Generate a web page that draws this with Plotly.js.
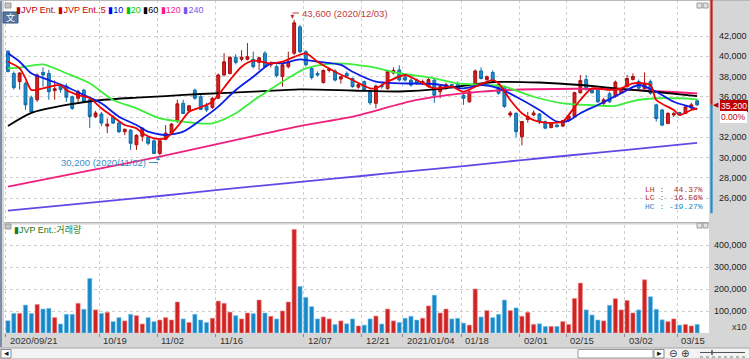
<!DOCTYPE html>
<html><head><meta charset="utf-8">
<script src="https://cdn.plot.ly/plotly-3.0.1.min.js"></script>
<style>html,body{margin:0;padding:0;background:#d6d6d6;}#chart{width:750px;height:359px;}</style>
</head><body><div id="chart"></div>
<script>
// ---------------- DATA ----------------
const tickLabels = ["2020/09/21","10/19","11/02","11/16","12/07","12/21","2021/01/04","01/18","02/01","02/15","03/02","03/15"];
const tickDayIndex = [0,16,26,36,51,61,68,78,88,96,106,115];

const openPrice = [40500,38300,37500,37300,35900,35700,38400,38300,36600,37100,
37050,36000,35850,36650,35700,34050,34300,33100,34000,33400,
32550,32700,31250,32100,32000,31650,30400,31800,32400,33550,
35350,34600,36650,36000,35100,34950,35850,38150,38300,39900,
39700,39700,39700,39400,40300,39150,38970,38000,38970,40300,
42900,40450,38800,38300,37400,38600,38550,37750,38300,37800,
36950,37500,36550,35350,37100,36800,38350,38650,37950,37650,
37650,37300,37000,37650,36500,36900,37200,37300,36150,35500,
37100,38550,37700,38400,37200,37000,34200,34350,32050,33750,
34200,34300,33550,32950,33200,33100,33650,34050,36400,37700,
36650,36650,35350,36300,36050,36400,37000,37700,37500,36800,
37500,35200,34700,33350,34200,34450,34350,34900,35600];
const highPrice = [40600,38500,38400,37500,36100,38300,38900,38650,37600,37300,
37300,36100,36700,36800,35800,34600,34500,33850,34200,33500,
32800,32800,32300,32950,32100,31800,31700,33200,33400,35700,
35700,35200,36800,36200,35400,36000,38300,40300,40000,40200,
40600,41300,40450,39950,40500,39500,39200,39500,40450,43600,
43100,40600,39000,38500,38700,38900,38700,38000,38500,37900,
37300,37600,36700,37200,37300,38600,38900,39100,38100,37800,
37800,37700,37900,37800,37100,37400,37300,37500,36300,36600,
38700,38900,38100,38600,37300,37100,34600,34500,33600,34500,
34650,34400,33650,33500,33300,33700,34200,36500,38150,38150,
36800,36800,35900,36500,37600,36900,38150,38300,37700,38400,
37700,35300,34800,34500,34500,34500,35100,35400,35700];
const lowPrice = [38400,36700,36700,34700,34400,35500,37000,35700,35700,36400,
35500,34700,35500,35400,32900,33900,33100,32400,33300,32400,
32200,30750,30750,31600,31200,30350,30200,31700,32300,33400,
34300,34400,35700,34700,34500,34800,35800,38000,38200,39200,
39500,39600,38800,38650,38900,38900,37900,37000,38800,40100,
40300,39000,37700,38000,37300,38400,37500,37300,37900,36900,
36800,36500,35200,34850,36800,36700,38200,37500,37500,37000,
37200,37200,36900,35400,35850,36700,36800,36700,35200,35400,
37000,37700,37500,37400,36200,34900,34000,32000,31200,33450,
34100,33300,32800,32900,32950,33000,33500,34000,36300,36600,
36300,35400,35100,35400,35900,36300,36900,37600,36700,36700,
36200,33550,33100,33300,34000,34100,34300,34800,35100];
const closePrice = [38500,36900,38350,35200,34500,38150,38150,36500,36800,36700,
35950,34850,36500,35500,34050,34400,33400,33300,33400,32550,
32800,31400,32200,32900,31400,30400,31650,32400,33300,35300,
34350,35100,35850,34750,34700,35850,38150,39450,39900,39400,
39900,39950,38970,39850,38970,39300,38100,39150,39450,43300,
40450,39150,37900,38150,38600,38750,37650,37980,38050,37000,
37200,36650,35400,37050,37000,38500,38600,37650,37650,37150,
37300,37500,37700,36150,37000,37200,36900,36850,35850,36500,
38550,37800,37980,37500,36350,35050,34400,32550,33550,34050,
34400,33550,32900,33400,33050,33650,34100,36400,37600,36750,
36400,35500,35700,35500,37450,36750,37800,38000,36850,37300,
36350,33850,33200,34350,34350,34200,35000,35200,35200];
const volume = [56000,89000,89000,127000,89000,130000,109000,112000,70000,41000,
85000,85000,135000,108000,248000,105000,89000,94000,52000,70000,
55000,85000,79000,41000,70000,52000,59000,70000,59000,141000,
64000,48000,85000,59000,48000,67000,145000,135000,95000,79000,
64000,91000,88000,150000,91000,76000,64000,100000,141000,471000,
212000,162000,120000,64000,73000,64000,39000,55000,42000,64000,
32000,36000,64000,77000,41000,109000,55000,48000,67000,76000,
59000,67000,123000,172000,91000,109000,64000,67000,45000,36000,
200000,73000,102000,70000,85000,150000,102000,114000,76000,94000,
39000,42000,30000,30000,30000,52000,39000,157000,227000,105000,
82000,59000,55000,126000,156000,105000,148000,91000,105000,242000,
165000,108000,60000,52000,64000,36000,39000,32000,39000];

// moving averages read at selected trading days
const ma5Day = [0,2,3,4,6,9,10,12,14,16,18,20,22,23,25,27,29,31,33,35,38,40,42,45,47,51,53,56,59,62,63,65,68,70,73,76,78,80,83,84,86,88,90,92,95,96,98,100,103,105,107,110,111,114,115,117,118];
const ma5Val = [39460,38810,37820,36670,36830,37160,36670,36170,35850,34860,34030,33210,32880,32390,31900,31900,33040,34520,34960,35510,37650,38970,39560,39300,39460,40290,39460,38470,37650,36830,36830,37490,38150,37650,36830,36990,36500,36990,37650,37330,35680,34370,33700,33440,33540,34200,35680,36830,36670,36830,37330,37160,35680,34690,34200,34690,34860];
const ma10Day = [0,2,4,7,10,13,16,19,22,24,27,30,33,36,39,42,45,47,50,53,57,59,63,67,73,78,81,84,87,91,94,96,98,101,105,108,111,114,117,118];
const ma10Val = [40290,39460,38320,37650,36990,36170,35350,34030,33210,32550,32220,32550,33700,35020,36670,37980,39300,39300,39700,39460,39140,38470,37490,37330,37260,36830,37160,36830,36000,34690,33540,33640,34370,35190,36340,37160,36500,35510,34960,34760];
const ma20Day = [0,2,6,10,14,18,22,26,30,35,39,42,47,51,56,62,67,73,77,82,85,90,95,99,104,107,111,115,118];
const ma20Val = [38810,38870,39200,38320,37330,35680,34860,33870,33540,33380,34370,35610,37490,38810,39300,38970,38320,37820,37330,37160,36990,36000,35350,35190,35100,35580,35850,35850,35750];
const ma60Day = [0,4,10,16,22,27,33,42,50,59,67,74,79,84,91,98,105,112,118];
const ma60Val = [33110,34400,35190,35680,35910,36070,36270,36500,36720,36620,36520,36770,37160,37460,37410,37160,36770,36420,36070];
const ma120Day = [0,13,26,42,50,59,70,81,90,104,118];
const ma120Val = [27120,28600,30080,32120,33100,34030,35680,36500,36740,36740,36320];
const ma240Day = [0,16,26,36,51,61,68,78,88,96,106,118];
const ma240Val = [24750,25650,26200,26800,27650,28200,28600,29150,29750,30200,30750,31450];

const priceTicks = [26000,28000,30000,32000,34000,36000,38000,40000,42000];
const priceTickText = ["26,000","28,000","30,000","32,000","","36,000","38,000","40,000","42,000"];
const volumeTicks = [100000,200000,300000,400000];
const currentPrice = 35200;
const periodHigh = 43600, periodHighDate = "2020/12/03", periodHighDay = 49;
const periodLow = 30200, periodLowDate = "2020/11/02", periodLowDay = 26;
const statLines = ["LH :\u00a0\u00a044.37%","LC :\u00a0\u00a016.56%","HC : -19.27%"];
const legendNames = ["JVP Ent.","JVP Ent.:5","10","20","60","120","240"];
const legendColors = ["#c00000","#d00000","#0000ff","#00c800","#000000","#ff1a8c","#7458ee"];

// ---------------- LAYOUT HELPERS ----------------
const W=750,H=359,ML=4,MR=41,MT=0,MB=26;
const PW=W-ML-MR, PH=H-MT-MB;
const px = x => (x-ML)/PW;
const py = y => 1-(y-MT)/PH;
const NARROW = "'Liberation Sans Narrow','Arial Narrow','Liberation Sans',Arial,sans-serif";
const MONO = "'Liberation Mono','DejaVu Sans Mono',monospace";
const KR = "'Liberation Sans Narrow','Liberation Sans','Noto Sans CJK KR',sans-serif";

const RED='#d42020', REDL='#a81010', BLUE='#1e8cca', BLUEL='#106aa8';
const dayIndex = openPrice.map((_,i)=>i);
const upDay = openPrice.map((o,i)=>closePrice[i]>=o);

const traces = [];
traces.push({type:'candlestick', x:dayIndex, open:openPrice, high:highPrice, low:lowPrice, close:closePrice,
  xaxis:'x', yaxis:'y', whiskerwidth:0,
  increasing:{line:{color:REDL,width:1}, fillcolor:RED},
  decreasing:{line:{color:BLUEL,width:1}, fillcolor:BLUE},
  hoverinfo:'skip', showlegend:false});
const maDefs = [
  [ma240Day,ma240Val,'#6448e6'],
  [ma120Day,ma120Val,'#f0207c'],
  [ma60Day,ma60Val,'#000000'],
  [ma20Day,ma20Val,'#3cee3c'],
  [ma10Day,ma10Val,'#0a1ee6'],
  [ma5Day,ma5Val,'#f00000']];
maDefs.forEach(([d,v,c])=>traces.push({type:'scatter',mode:'lines',x:d,y:v,xaxis:'x',yaxis:'y',
  line:{color:c,width:1.8,shape:'spline',smoothing:0.7},hoverinfo:'skip',showlegend:false}));
traces.push({type:'bar', x:dayIndex, y:volume, xaxis:'x', yaxis:'y2', width:0.72,
  marker:{color:upDay.map(u=>u?'#d02424':'#1a88c6'), line:{color:upDay.map(u=>u?'#f08a8a':'#7cc8ee'),width:0.6}},
  hoverinfo:'skip', showlegend:false});

// ---------------- SHAPES ----------------
const shapes = [];
const rectPx = (x0,y0,x1,y1,fill,line,lw)=>shapes.push({type:'rect',xref:'paper',yref:'paper',x0:px(x0),x1:px(x1),y0:py(y1),y1:py(y0),fillcolor:fill,line:{color:line||fill,width:lw===undefined?1:lw},layer:'above'});
const linePx = (x0,y0,x1,y1,color,w,dash)=>shapes.push({type:'line',xref:'paper',yref:'paper',x0:px(x0),x1:px(x1),y0:py(y0),y1:py(y1),line:{color:color,width:w||1,dash:dash||'solid'},layer:'above'});
linePx(4,222.5,709,222.5,'#b4b4b4',1.2);
linePx(4,224.5,709,224.5,'#e8e8e8',1);
linePx(1,0,1,347,'#7d8fa8',2);
linePx(0,0.5,750,0.5,'#b8b8b8',1);
shapes.push({type:'line',xref:'paper',yref:'y',x0:px(711.5),x1:px(711.5),y0:currentPrice,y1:45556,line:{color:'#c81818',width:2.2},layer:'above'});
shapes.push({type:'line',xref:'paper',yref:'y',x0:px(711.5),x1:px(711.5),y0:currentPrice,y1:24500,line:{color:'#1e8cca',width:2.2},layer:'above'});
rectPx(5,3,11,8,'#c4c4c4','#9a9a9a');
rectPx(3,12,18,23,'#5576a0','#39577f');
rectPx(5,224,11,229,'#c4c4c4','#9a9a9a');
[[697,3],[703,3],[697,223],[703,223]].forEach(([x,y])=>rectPx(x,y,x+5,y+5,'#e2e2e2','#9a9a9a'));
linePx(292.5,13,299,13,'#c03c3c',1);
linePx(149,162.5,158,162.5,'#3c8cc8',1);
rectPx(0,348,750,359,'#f3f3f3','#a8a8a8');
rectPx(1,349.5,11,358,'#ffffff','#8a8a8a');
rectPx(578,349.5,653,358,'#ffffff','#9a9a9a');
rectPx(654,349.5,664,358,'#ffffff','#8a8a8a');
linePx(700,352.5,745,352.5,'#555555',1);
linePx(712,350,712,355,'#555555',1.5);
linePx(700,357,745,357,'#777777',1,'dot');

// ---------------- ANNOTATIONS ----------------
const ann = [];
const txt = (x,y,t,color,size,xa,fam)=>ann.push({xref:'paper',yref:'paper',x:px(x),y:py(y),text:t,showarrow:false,
  xanchor:xa||'left',yanchor:'middle',font:{family:fam||NARROW,size:size||10,color:color}});
const legendHtml = legendNames.map((n,i)=>'<span style="color:'+legendColors[i]+'">▮'+n+'</span>').join(' ');
txt(14,10,legendHtml,'#000',9);
txt(10.5,17.8,'文','#ffffff',9,'center',"'Noto Sans CJK SC',sans-serif");
txt(12,229.5,'▮JVP Ent.:거래량','#1a7a1a',9,'left',KR);
tickLabels.forEach((t,i)=>ann.push({xref:'x',yref:'paper',x:tickDayIndex[i]-0.4,y:py(340.5),xshift:2,text:t,showarrow:false,
  xanchor:'left',yanchor:'middle',font:{family:NARROW,size:9.5,color:'#333333'}}));
txt(300,13,periodHigh.toLocaleString('en-US')+' ('+periodHighDate+')','#c03c3c',9.5);
ann.push({xref:'x',yref:'y',x:periodHighDay-0.3,y:periodHigh+80,ax:0,ay:-6,text:'',showarrow:true,arrowhead:2,arrowsize:0.8,arrowwidth:1,arrowcolor:'#c03c3c'});
txt(148,162.5,periodLow.toLocaleString('en-US')+' ('+periodLowDate+')','#3c8cc8',9.5,'right');
ann.push({xref:'x',yref:'y',x:periodLowDay-0.3,y:periodLow-60,ax:0,ay:6,text:'',showarrow:true,arrowhead:2,arrowsize:0.8,arrowwidth:1,arrowcolor:'#3c8cc8'});
const statColors = ['#b43030','#b43030','#2a86c4'];
statLines.forEach((t,i)=>txt(705,189+8.5*i,t,statColors[i],8,'right',MONO));
ann.push({xref:'paper',yref:'y',x:px(733.5),y:currentPrice,yshift:-1.5,text:currentPrice.toLocaleString('en-US'),showarrow:false,xanchor:'center',yanchor:'middle',
  bgcolor:'#c00000',bordercolor:'#c00000',borderpad:0,font:{family:NARROW,size:8.5,color:'#ffffff'}});
ann.push({xref:'paper',yref:'y',x:px(733.5),y:currentPrice,yshift:-12.5,text:'0.00%',showarrow:false,xanchor:'center',yanchor:'middle',
  bgcolor:'#ffffff',bordercolor:'#ffffff',borderpad:0,font:{family:NARROW,size:8.5,color:'#c00000'}});
ann.push({xref:'paper',yref:'y',x:px(711),y:currentPrice,text:'◀',showarrow:false,xanchor:'left',yanchor:'middle',
  font:{family:'DejaVu Sans',size:7,color:'#c00000'}});
txt(739,327,'x10','#333333',9,'center');
txt(6,353.5,'◂','#222',9,'center','DejaVu Sans');
txt(659,353.5,'▸','#222',9,'center','DejaVu Sans');
txt(673,353.5,'⊖','#333',10,'center','DejaVu Sans');
txt(685,353.5,'⊕','#333',10,'center','DejaVu Sans');

const gridStyle = {gridcolor:'#cdcdcd',griddash:'dot',gridwidth:1};
const layout = {
  width:W,height:H,margin:{l:ML,r:MR,t:MT,b:MB,pad:0},
  paper_bgcolor:'#d6d6d6',plot_bgcolor:'#ffffff',showlegend:false,
  xaxis:Object.assign({domain:[0,1],anchor:'y2',range:[-0.68,120.03],
    tickvals:tickDayIndex.map(i=>i-0.4),ticktext:tickLabels,showticklabels:false,
    ticks:'outside',ticklen:3,tickcolor:'#8a8a8a',showgrid:true,zeroline:false,showline:false,
    rangeslider:{visible:false},fixedrange:true},gridStyle),
  yaxis:Object.assign({domain:[py(222),1],anchor:'x',range:[23630,45556],side:'right',
    tickvals:priceTicks,ticktext:priceTickText,ticks:'',ticklabelstandoff:9,zeroline:false,showline:false,
    tickfont:{family:NARROW,size:9,color:'#222222'},fixedrange:true},gridStyle),
  yaxis2:Object.assign({domain:[0,py(225)],anchor:'x',range:[0,490909],side:'right',
    tickvals:volumeTicks,tickformat:',d',ticks:'',ticklabelstandoff:4,zeroline:false,showline:false,
    tickfont:{family:NARROW,size:9,color:'#222222'},fixedrange:true},gridStyle),
  shapes:shapes, annotations:ann, hovermode:false
};
Plotly.newPlot('chart',traces,layout,{staticPlot:true,displayModeBar:false});
</script></body></html>
